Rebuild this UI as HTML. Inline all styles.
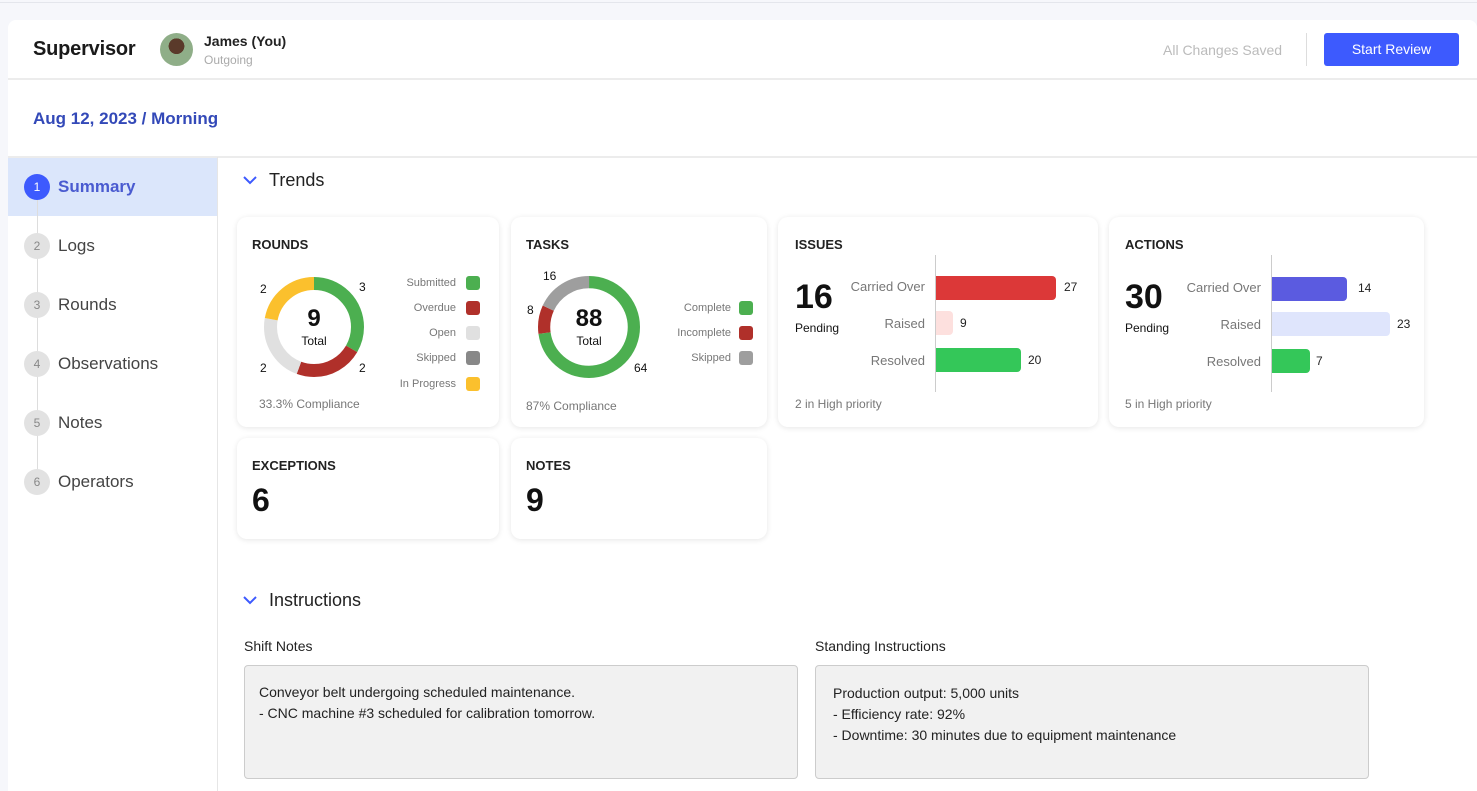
<!DOCTYPE html>
<html><head><meta charset="utf-8"><style>
*{box-sizing:border-box;margin:0;padding:0}
body{width:1477px;height:791px;overflow:hidden;background:#f6f7fb;font-family:"Liberation Sans",sans-serif;color:#111;position:relative}
.a{position:absolute}
.card{position:absolute;background:#fff;border-radius:10px;box-shadow:0 1px 6px rgba(0,0,0,0.10)}
.t{position:absolute;white-space:nowrap}
.ttl{font-size:13px;font-weight:bold;color:#222}
.lg{font-size:11px;color:#777;text-align:right;width:80px}
.sw{position:absolute;width:14px;height:14px;border-radius:3px}
.nav{position:absolute;left:24px;font-size:17px;color:#444}
.nav .c{position:absolute;left:0;top:0;width:26px;height:26px;border-radius:50%;background:#e2e2e2;color:#888;font-size:12px;text-align:center;line-height:26px}
.nav span.l{position:absolute;left:34px;top:3px;white-space:nowrap}
.bl{font-size:13px;color:#777;text-align:right;width:90px}
.bar{position:absolute;height:24px;border-radius:0 4px 4px 0}
.bv{font-size:12px;color:#222}
</style></head><body>
<div class="a" style="left:0;top:2px;width:1477px;height:1px;background:#e4e6ec"></div>
<div class="a" style="left:8px;top:20px;width:1469px;height:771px;background:#fff;border-radius:8px 8px 0 0"></div>
<div class="a" style="left:8px;top:78px;width:1469px;height:2px;background:#ececec"></div>
<div class="a" style="left:8px;top:156px;width:1469px;height:2px;background:#ececec"></div>
<div class="a" style="left:217px;top:157px;width:1px;height:634px;background:#e6e6e6"></div>
<div class="t" style="left:33px;top:38px;font-size:20px;font-weight:bold;color:#1a1a1a;letter-spacing:-0.2px">Supervisor</div>
<div class="a" style="left:160px;top:33px;width:33px;height:33px;border-radius:50%;background:radial-gradient(circle at 50% 40%,#5a3a2a 0 30%,#8fae88 31%)"></div>
<div class="t" style="left:204px;top:33px;font-size:14px;font-weight:bold;color:#222">James (You)</div>
<div class="t" style="left:204px;top:53px;font-size:12px;color:#aaa">Outgoing</div>
<div class="t" style="left:1163px;top:42px;font-size:14px;color:#bbb">All Changes Saved</div>
<div class="a" style="left:1306px;top:33px;width:1px;height:33px;background:#ddd"></div>
<div class="a" style="left:1324px;top:33px;width:135px;height:33px;border-radius:3px;background:#3d5afe;color:#fff;font-size:14px;text-align:center;line-height:33px">Start Review</div>
<div class="t" style="left:33px;top:109px;font-size:17px;font-weight:bold;color:#3349b8">Aug 12, 2023 / Morning</div>
<div class="a" style="left:8px;top:158px;width:209px;height:58px;background:#dbe6fb"></div>
<div class="a" style="left:37px;top:200px;width:1px;height:290px;background:#ddd"></div>
<div class="nav" style="top:174px"><div class="c" style="background:#3d5afe;color:#fff">1</div><span class="l" style="color:#4a5bd0;font-weight:bold">Summary</span></div>
<div class="nav" style="top:233px"><div class="c">2</div><span class="l">Logs</span></div>
<div class="nav" style="top:292px"><div class="c">3</div><span class="l">Rounds</span></div>
<div class="nav" style="top:351px"><div class="c">4</div><span class="l">Observations</span></div>
<div class="nav" style="top:410px"><div class="c">5</div><span class="l">Notes</span></div>
<div class="nav" style="top:469px"><div class="c">6</div><span class="l">Operators</span></div>
<svg class="a" style="left:242px;top:174px" width="16" height="12"><path d="M2 3 L8 9 L14 3" stroke="#3d5afe" stroke-width="2" fill="none"/></svg>
<div class="t" style="left:269px;top:170px;font-size:18px;color:#222">Trends</div>
<!-- rounds -->
<div class="card" style="left:237px;top:217px;width:262px;height:210px"></div>
<div class="t ttl" style="left:252px;top:237px">ROUNDS</div>
<svg class="a" style="left:264px;top:277px" width="100" height="100" viewBox="0 0 100 100">
<g transform="rotate(-90 50 50)" fill="none" stroke-width="13">
<circle cx="50" cy="50" r="43.5" stroke="#4caf50" stroke-dasharray="91.1 182.2"/>
<circle cx="50" cy="50" r="43.5" stroke="#b0302a" stroke-dasharray="60.7 212.6" stroke-dashoffset="-91.1"/>
<circle cx="50" cy="50" r="43.5" stroke="#e0e0e0" stroke-dasharray="60.7 212.6" stroke-dashoffset="-151.8"/>
<circle cx="50" cy="50" r="43.5" stroke="#fbc02d" stroke-dasharray="60.7 212.6" stroke-dashoffset="-212.5"/>
</g></svg>
<div class="t" style="left:264px;top:305px;width:100px;text-align:center;font-size:24px;font-weight:bold">9</div>
<div class="t" style="left:264px;top:334px;width:100px;text-align:center;font-size:12px">Total</div>
<div class="t" style="left:260px;top:282px;font-size:12px">2</div><div class="t" style="left:359px;top:280px;font-size:12px">3</div>
<div class="t" style="left:260px;top:361px;font-size:12px">2</div><div class="t" style="left:359px;top:361px;font-size:12px">2</div>
<div class="t lg" style="left:376px;top:277px">Submitted</div><div class="sw" style="left:466px;top:276px;background:#4caf50"></div>
<div class="t lg" style="left:376px;top:302px">Overdue</div><div class="sw" style="left:466px;top:301px;background:#b0302a"></div>
<div class="t lg" style="left:376px;top:327px">Open</div><div class="sw" style="left:466px;top:326px;background:#e0e0e0"></div>
<div class="t lg" style="left:376px;top:352px">Skipped</div><div class="sw" style="left:466px;top:351px;background:#888"></div>
<div class="t lg" style="left:376px;top:378px">In Progress</div><div class="sw" style="left:466px;top:377px;background:#fbc02d"></div>
<div class="t" style="left:259px;top:397px;font-size:12px;color:#777">33.3% Compliance</div>
<!-- tasks -->
<div class="card" style="left:511px;top:217px;width:256px;height:210px"></div>
<div class="t ttl" style="left:526px;top:237px">TASKS</div>
<svg class="a" style="left:538px;top:276px" width="102" height="102" viewBox="0 0 100 100">
<g transform="rotate(-90 50 50)" fill="none" stroke-width="12">
<circle cx="50" cy="50" r="44" stroke="#4caf50" stroke-dasharray="201 76"/>
<circle cx="50" cy="50" r="44" stroke="#b0302a" stroke-dasharray="25.1 251.4" stroke-dashoffset="-201"/>
<circle cx="50" cy="50" r="44" stroke="#9e9e9e" stroke-dasharray="50.4 226" stroke-dashoffset="-226.1"/>
</g></svg>
<div class="t" style="left:538px;top:305px;width:102px;text-align:center;font-size:24px;font-weight:bold">88</div>
<div class="t" style="left:538px;top:334px;width:102px;text-align:center;font-size:12px">Total</div>
<div class="t" style="left:543px;top:269px;font-size:12px">16</div><div class="t" style="left:527px;top:303px;font-size:12px">8</div>
<div class="t" style="left:634px;top:361px;font-size:12px">64</div>
<div class="t lg" style="left:651px;top:302px">Complete</div><div class="sw" style="left:739px;top:301px;background:#4caf50"></div>
<div class="t lg" style="left:651px;top:327px">Incomplete</div><div class="sw" style="left:739px;top:326px;background:#b0302a"></div>
<div class="t lg" style="left:651px;top:352px">Skipped</div><div class="sw" style="left:739px;top:351px;background:#9e9e9e"></div>
<div class="t" style="left:526px;top:399px;font-size:12px;color:#777">87% Compliance</div>
<!-- issues -->
<div class="card" style="left:778px;top:217px;width:320px;height:210px"></div>
<div class="t ttl" style="left:795px;top:237px">ISSUES</div>
<div class="t" style="left:795px;top:278px;font-size:34px;font-weight:bold">16</div>
<div class="t" style="left:795px;top:321px;font-size:12px;font-weight:500">Pending</div>
<div class="a" style="left:935px;top:255px;width:1px;height:137px;background:#ccc"></div>
<div class="t bl" style="left:835px;top:279px">Carried Over</div><div class="bar" style="left:936px;top:276px;width:120px;background:#dc3838"></div><div class="t bv" style="left:1064px;top:280px">27</div>
<div class="t bl" style="left:835px;top:316px">Raised</div><div class="bar" style="left:936px;top:311px;width:17px;background:#fde0de"></div><div class="t bv" style="left:960px;top:316px">9</div>
<div class="t bl" style="left:835px;top:353px">Resolved</div><div class="bar" style="left:936px;top:348px;width:85px;background:#34c759"></div><div class="t bv" style="left:1028px;top:353px">20</div>
<div class="t" style="left:795px;top:397px;font-size:12px;color:#777">2 in High priority</div>
<!-- actions -->
<div class="card" style="left:1109px;top:217px;width:315px;height:210px"></div>
<div class="t ttl" style="left:1125px;top:237px">ACTIONS</div>
<div class="t" style="left:1125px;top:278px;font-size:34px;font-weight:bold">30</div>
<div class="t" style="left:1125px;top:321px;font-size:12px;font-weight:500">Pending</div>
<div class="a" style="left:1271px;top:255px;width:1px;height:137px;background:#ccc"></div>
<div class="t bl" style="left:1171px;top:280px">Carried Over</div><div class="bar" style="left:1272px;top:277px;width:75px;background:#5b5be0"></div><div class="t bv" style="left:1358px;top:281px">14</div>
<div class="t bl" style="left:1171px;top:317px">Raised</div><div class="bar" style="left:1272px;top:312px;width:118px;background:#dfe5fc"></div><div class="t bv" style="left:1397px;top:317px">23</div>
<div class="t bl" style="left:1171px;top:354px">Resolved</div><div class="bar" style="left:1272px;top:349px;width:38px;background:#34c759"></div><div class="t bv" style="left:1316px;top:354px">7</div>
<div class="t" style="left:1125px;top:397px;font-size:12px;color:#777">5 in High priority</div>
<!-- exceptions/notes -->
<div class="card" style="left:237px;top:438px;width:262px;height:101px"></div>
<div class="t ttl" style="left:252px;top:458px">EXCEPTIONS</div>
<div class="t" style="left:252px;top:482px;font-size:32px;font-weight:bold">6</div>
<div class="card" style="left:511px;top:438px;width:256px;height:101px"></div>
<div class="t ttl" style="left:526px;top:458px">NOTES</div>
<div class="t" style="left:526px;top:482px;font-size:32px;font-weight:bold">9</div>
<!-- instructions -->
<svg class="a" style="left:242px;top:594px" width="16" height="12"><path d="M2 3 L8 9 L14 3" stroke="#3d5afe" stroke-width="2" fill="none"/></svg>
<div class="t" style="left:269px;top:590px;font-size:18px;color:#222">Instructions</div>
<div class="t" style="left:244px;top:638px;font-size:14px;font-weight:500;color:#222">Shift Notes</div>
<div class="t" style="left:815px;top:638px;font-size:14px;font-weight:500;color:#222">Standing Instructions</div>
<div class="a" style="left:244px;top:665px;width:554px;height:114px;background:#f1f1f1;border:1px solid #ccc;border-radius:4px;padding:16px 14px;font-size:14px;line-height:21px;color:#222">Conveyor belt undergoing scheduled maintenance.<br>- CNC machine #3 scheduled for calibration tomorrow.</div>
<div class="a" style="left:815px;top:665px;width:554px;height:114px;background:#f1f1f1;border:1px solid #ccc;border-radius:4px;padding:17px 17px;font-size:14px;line-height:21px;color:#222">Production output: 5,000 units<br>- Efficiency rate: 92%<br>- Downtime: 30 minutes due to equipment maintenance</div>
</body></html>
